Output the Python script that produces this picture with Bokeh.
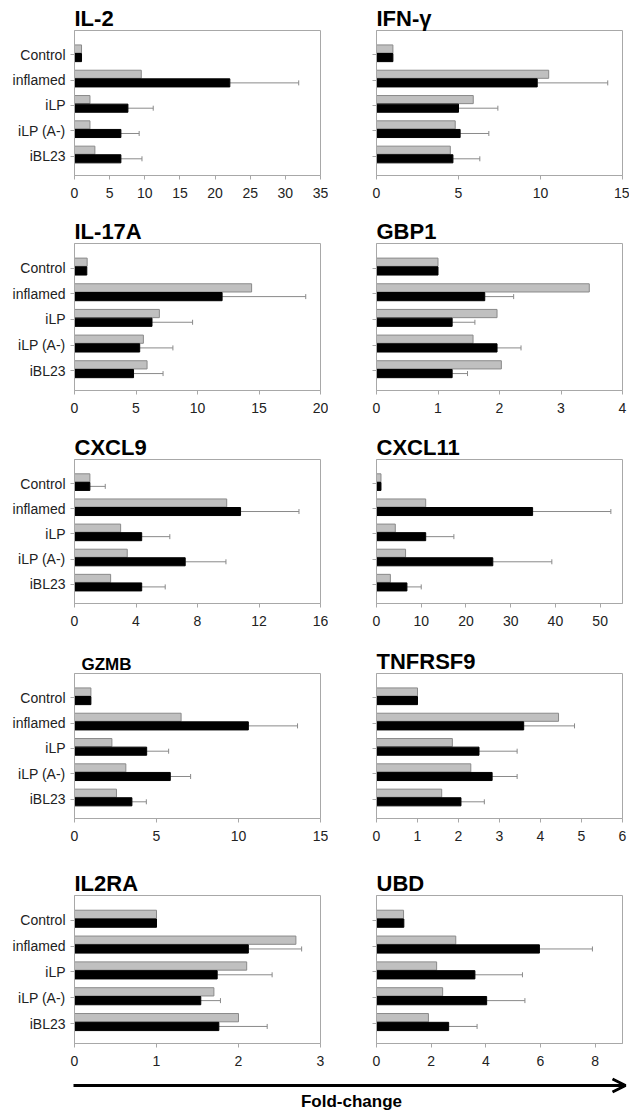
from bokeh.plotting import figure
from bokeh.layouts import column, row
from bokeh.models import Range1d, FixedTicker, Whisker, TeeHead, ColumnDataSource, Arrow, OpenHead, Label
from bokeh.embed import file_html
from bokeh.resources import INLINE

categories = ["Control", "inflamed", "iLP", "iLP (A-)", "iBL23"]

# gray bar, black bar, upper end of error bar (on black bar)
il2_gray = [1.0, 9.5, 2.2, 2.2, 2.9]
il2_black = [1.0, 22.1, 7.6, 6.6, 6.6]
il2_err = [1.0, 31.9, 11.2, 9.2, 9.6]

ifng_gray = [1.0, 10.5, 5.9, 4.8, 4.5]
ifng_black = [1.0, 9.8, 5.0, 5.1, 4.66]
ifng_err = [1.0, 14.1, 7.4, 6.85, 6.3]

il17a_gray = [1.03, 14.4, 6.9, 5.6, 5.9]
il17a_black = [1.0, 12.0, 6.3, 5.3, 4.8]
il17a_err = [1.0, 18.8, 9.6, 8.0, 7.2]

gbp1_gray = [1.0, 3.46, 1.96, 1.57, 2.03]
gbp1_black = [1.0, 1.76, 1.23, 1.96, 1.23]
gbp1_err = [1.0, 2.23, 1.6, 2.35, 1.48]

cxcl9_gray = [1.0, 9.9, 3.0, 3.43, 2.35]
cxcl9_black = [1.0, 10.8, 4.37, 7.2, 4.37]
cxcl9_err = [2.0, 14.6, 6.2, 9.85, 5.9]

cxcl11_gray = [1.0, 11.0, 4.2, 6.5, 3.1]
cxcl11_black = [1.0, 34.9, 11.0, 26.0, 6.8]
cxcl11_err = [1.0, 52.4, 17.3, 39.2, 10.0]

gzmb_gray = [1.0, 6.5, 2.28, 3.13, 2.56]
gzmb_black = [1.0, 10.6, 4.4, 5.84, 3.5]
gzmb_err = [1.0, 13.6, 5.74, 7.08, 4.38]

tnfrsf9_gray = [1.0, 4.44, 1.85, 2.3, 1.59]
tnfrsf9_black = [1.0, 3.59, 2.5, 2.82, 2.06]
tnfrsf9_err = [1.0, 4.83, 3.43, 3.43, 2.63]

il2ra_gray = [1.0, 2.7, 2.1, 1.7, 2.0]
il2ra_black = [1.0, 2.12, 1.74, 1.54, 1.76]
il2ra_err = [1.0, 2.77, 2.41, 1.78, 2.35]

ubd_gray = [0.99, 2.9, 2.2, 2.42, 1.9]
ubd_black = [1.0, 5.96, 3.6, 4.03, 2.64]
ubd_err = [1.0, 7.9, 5.34, 5.43, 3.68]

x_ticks = {
    "IL-2": [0, 5, 10, 15, 20, 25, 30, 35],
    "IFN-γ": [0, 5, 10, 15],
    "IL-17A": [0, 5, 10, 15, 20],
    "GBP1": [0, 1, 2, 3, 4],
    "CXCL9": [0, 4, 8, 12, 16],
    "CXCL11": [0, 10, 20, 30, 40, 50],
    "GZMB": [0, 5, 10, 15],
    "TNFRSF9": [0, 1, 2, 3, 4, 5, 6],
    "IL2RA": [0, 1, 2, 3],
    "UBD": [0, 2, 4, 6, 8],
}
x_max = {"IL-2": 35, "IFN-γ": 15, "IL-17A": 20, "GBP1": 4, "CXCL9": 16,
         "CXCL11": 55, "GZMB": 15, "TNFRSF9": 6, "IL2RA": 3, "UBD": 9}

FONT = "Liberation Sans"
GRAY_FILL = "#c0c0c0"
GRAY_LINE = "#8a8a8a"
FRAME = "#a8a8a8"


def panel(title, gray, black, err, left, fig_h, top, frame_h, title_size="22px", title_offset=0):
    w = 328 if left else 301
    p = figure(width=w, height=fig_h,
               x_range=Range1d(0, x_max[title]), y_range=Range1d(4.77, -0.96),
               output_backend="svg", toolbar_location=None,
               min_border_left=74 if left else 48, min_border_right=8 if left else 7,
               min_border_top=top, min_border_bottom=fig_h - top - frame_h,
               title=title)
    p.title.text_font = FONT
    p.title.text_font_style = "bold"
    p.title.text_font_size = title_size
    p.title.text_color = "#000"
    p.title.align = "left"
    p.title.standoff = 0
    p.title.offset = title_offset
    p.outline_line_color = FRAME
    p.xgrid.visible = False
    p.ygrid.visible = False
    p.background_fill_color = "white"
    p.border_fill_color = "white"

    idx = list(range(len(categories)))
    y_gray = [i - 0.23 for i in idx]
    y_black = [i + 0.11 for i in idx]
    p.hbar(y=y_gray, left=0, right=gray, height=0.32,
           fill_color=GRAY_FILL, line_color=GRAY_LINE, line_width=1)
    p.hbar(y=y_black, left=0, right=black, height=0.32,
           fill_color="#000000", line_color="#000000", line_width=1)

    sel = [i for i in idx if err[i] > black[i]]
    src = ColumnDataSource(dict(y=[y_black[i] for i in sel],
                                lo=[black[i] for i in sel],
                                hi=[err[i] for i in sel]))
    wk = Whisker(source=src, base="y", lower="lo", upper="hi", dimension="width",
                 line_color="#8a8a8a", line_width=1,
                 upper_head=TeeHead(size=5, line_color="#8a8a8a", line_width=1),
                 lower_head=None)
    p.add_layout(wk)

    xa = p.xaxis[0]
    xa.ticker = FixedTicker(ticks=x_ticks[title])
    xa.axis_line_color = FRAME
    xa.major_tick_line_color = FRAME
    xa.major_tick_out = 4
    xa.major_tick_in = 0
    xa.minor_tick_line_color = None
    xa.major_label_text_font = FONT
    xa.major_label_text_font_size = "14px"
    xa.major_label_text_color = "#222222"
    xa.major_label_standoff = 8

    ya = p.yaxis[0]
    ya.ticker = FixedTicker(ticks=idx)
    ya.axis_line_color = FRAME
    ya.major_tick_line_color = FRAME
    ya.major_tick_out = 4
    ya.major_tick_in = 0
    ya.minor_tick_line_color = None
    ya.major_label_text_font = FONT
    ya.major_label_text_font_size = "14px"
    ya.major_label_text_color = "#222222"
    ya.major_label_standoff = 5
    if left:
        ya.major_label_overrides = {i: categories[i] for i in idx}
    else:
        ya.major_label_overrides = {i: "" for i in idx}
    return p


r1 = row(panel("IL-2", il2_gray, il2_black, il2_err, True, 216, 30, 145),
         panel("IFN-γ", ifng_gray, ifng_black, ifng_err, False, 216, 30, 145))
r2 = row(panel("IL-17A", il17a_gray, il17a_black, il17a_err, True, 216, 26, 148),
         panel("GBP1", gbp1_gray, gbp1_black, gbp1_err, False, 216, 26, 148))
r3 = row(panel("CXCL9", cxcl9_gray, cxcl9_black, cxcl9_err, True, 214, 26, 145),
         panel("CXCL11", cxcl11_gray, cxcl11_black, cxcl11_err, False, 214, 26, 145))
r4 = row(panel("GZMB", gzmb_gray, gzmb_black, gzmb_err, True, 222, 26, 146, "17px", 7),
         panel("TNFRSF9", tnfrsf9_gray, tnfrsf9_black, tnfrsf9_err, False, 222, 26, 146))
r5 = row(panel("IL2RA", il2ra_gray, il2ra_black, il2ra_err, True, 202, 26, 149),
         panel("UBD", ubd_gray, ubd_black, ubd_err, False, 202, 26, 149))

fa = figure(width=629, height=41, x_range=Range1d(0, 629), y_range=Range1d(41, 0),
            output_backend="svg", toolbar_location=None, min_border=0,
            x_axis_location=None, y_axis_location=None)
fa.outline_line_color = None
fa.xgrid.visible = False
fa.ygrid.visible = False
fa.add_layout(Arrow(x_start=73, y_start=15, x_end=625, y_end=15, line_width=3,
                    line_color="black",
                    end=OpenHead(size=13, line_width=3, line_color="black")))
fa.add_layout(Label(x=351, y=31, text="Fold-change", text_align="center",
                    text_baseline="alphabetic", text_font=FONT, text_font_style="bold",
                    text_font_size="17px", text_color="#000"))

layout = column(r1, r2, r3, r4, r5, fa)
open("out.html", "w").write(file_html(layout, INLINE))
